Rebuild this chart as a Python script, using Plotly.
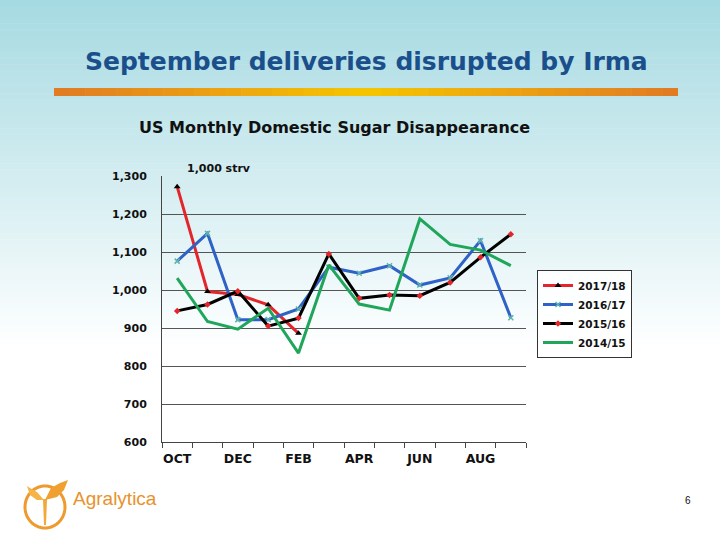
import plotly.graph_objects as go
import math

months = ["OCT", "NOV", "DEC", "JAN", "FEB", "MAR", "APR", "MAY", "JUN", "JUL", "AUG", "SEP"]
tick_labels = ["OCT", "", "DEC", "", "FEB", "", "APR", "", "JUN", "", "AUG", ""]

s2017_18 = [1272, 996, 988, 961, 886]
s2016_17 = [1076, 1149, 922, 922, 950, 1060, 1044, 1064, 1013, 1032, 1130, 927]
s2015_16 = [945, 962, 997, 905, 926, 1095, 978, 987, 985, 1020, 1086, 1147]
s2014_15 = [1031, 917, 897, 952, 834, 1066, 963, 947, 1187, 1120, 1105, 1064]

series_names = ["2017/18", "2016/17", "2015/16", "2014/15"]
y_ticks = [600, 700, 800, 900, 1000, 1100, 1200, 1300]

# plot area in pixels
L, R, T, B = 162, 526, 176, 442
W, H = 720, 540


def px2x(px):
    return (px - L) / (R - L)


def py2y(py):
    return (B - py) / (B - T)


def mix(c1, c2, t):
    return "rgb(%d,%d,%d)" % tuple(round(a + (b - a) * t) for a, b in zip(c1, c2))


fig = go.Figure()

fig.add_trace(go.Scatter(x=months[:len(s2017_18)], y=s2017_18, name=series_names[0], mode="lines+markers",
                         line=dict(color="#e3262b", width=3),
                         marker=dict(symbol="triangle-up", size=6, color="black")))
fig.add_trace(go.Scatter(x=months, y=s2016_17, name=series_names[1], mode="lines+markers",
                         line=dict(color="#2f62c6", width=3),
                         marker=dict(symbol="x-thin", size=5, color="#5fb3ad", line=dict(color="#5fb3ad", width=1.5))))
fig.add_trace(go.Scatter(x=months, y=s2015_16, name=series_names[2], mode="lines+markers",
                         line=dict(color="black", width=3),
                         marker=dict(symbol="diamond", size=5, color="#e3262b")))
fig.add_trace(go.Scatter(x=months, y=s2014_15, name=series_names[3], mode="lines",
                         line=dict(color="#1fa65a", width=3)))

shapes = []
# background gradient (top light cyan -> white)
top_c = (166, 218, 226)
bot_c = (255, 255, 255)
n = 60
grad_end = 350
for i in range(n):
    y0 = i * grad_end / n
    y1 = (i + 1) * grad_end / n + 0.5
    shapes.append(dict(type="rect", xref="paper", yref="paper",
                       x0=px2x(0), x1=px2x(W), y0=py2y(y0), y1=py2y(y1),
                       fillcolor=mix(top_c, bot_c, i / (n - 1)), line=dict(width=0), layer="below"))

# orange-yellow bar
bx0, bx1, by0, by1 = 54, 678, 88, 96
m = 40
orange = (224, 122, 36)
yellow = (246, 198, 0)
for i in range(m):
    xa = bx0 + (bx1 - bx0) * i / m
    xb = bx0 + (bx1 - bx0) * (i + 1) / m + 0.5
    t = 1 - abs((i + 0.5) / m - 0.5) * 2
    shapes.append(dict(type="rect", xref="paper", yref="paper",
                       x0=px2x(xa), x1=px2x(min(xb, bx1)), y0=py2y(by1), y1=py2y(by0),
                       fillcolor=mix(orange, yellow, t), line=dict(width=0), layer="above"))


# logo: oval outline + leaves
def path_px(pts, close=True):
    s = "M " + " L ".join("%f,%f" % (px2x(x), py2y(y)) for x, y in pts)
    return s + (" Z" if close else "")


oval = [(45 + 20 * math.cos(a / 30 * math.pi), 507 + 21 * math.sin(a / 30 * math.pi)) for a in range(-20, 51)]
shapes.append(dict(type="path", xref="paper", yref="paper", path=path_px(oval, close=False),
                   line=dict(color="#ee9a2e", width=3)))
shapes.append(dict(type="path", xref="paper", yref="paper",
                   path=path_px([(45, 525), (44, 500), (46, 500)]),
                   fillcolor="#f2a93b", line=dict(color="#f2a93b", width=2)))
shapes.append(dict(type="path", xref="paper", yref="paper",
                   path=path_px([(45, 500), (51, 488), (60, 483), (68, 480), (64, 490), (57, 497)]),
                   fillcolor="#f0a030", line=dict(width=0)))
shapes.append(dict(type="path", xref="paper", yref="paper",
                   path=path_px([(44, 500), (37, 492), (30, 488), (27, 486), (30, 495), (37, 500)]),
                   fillcolor="#f5b445", line=dict(width=0)))

annotations = [
    dict(text="<b>September deliveries disrupted by Irma</b>", x=px2x(366), y=py2y(62), xref="paper", yref="paper",
         showarrow=False, xanchor="center", yanchor="middle",
         font=dict(family="DejaVu Sans", size=25, color="#1b4f8c")),
    dict(text="<b>US Monthly Domestic Sugar Disappearance</b>", x=px2x(137), y=py2y(127), xref="paper", yref="paper",
         showarrow=False, xanchor="left", yanchor="middle",
         font=dict(family="DejaVu Sans", size=16, color="#111111")),
    dict(text="<b>1,000 strv</b>", x=px2x(185), y=py2y(168), xref="paper", yref="paper",
         showarrow=False, xanchor="left", yanchor="middle",
         font=dict(family="DejaVu Sans", size=11, color="#111111")),
    dict(text="Agralytica", x=px2x(71), y=py2y(498), xref="paper", yref="paper",
         showarrow=False, xanchor="left", yanchor="middle",
         font=dict(family="Liberation Sans", size=19, color="#e8922c")),
    dict(text="6", x=px2x(688), y=py2y(500), xref="paper", yref="paper",
         showarrow=False, xanchor="center", yanchor="middle",
         font=dict(family="Liberation Sans", size=10, color="#111111")),
]

fig.update_layout(
    width=W, height=H,
    margin=dict(l=L, r=W - R, t=T, b=H - B, pad=0),
    paper_bgcolor="white",
    plot_bgcolor="rgba(0,0,0,0)",
    shapes=shapes,
    annotations=annotations,
    showlegend=True,
    legend=dict(x=px2x(537), y=py2y(270), xanchor="left", yanchor="top",
                bgcolor="rgba(255,255,255,0.85)", bordercolor="#333333", borderwidth=1,
                font=dict(family="DejaVu Sans", size=10.5, color="#111111"),
                itemwidth=30, tracegroupgap=0),
    font=dict(family="DejaVu Sans"),
)
for tr in fig.data:
    tr.name = "<b>%s</b>" % tr.name

fig.update_xaxes(type="category", categoryorder="array", categoryarray=months,
                 tickmode="array", tickvals=months, ticktext=["<b>%s</b>" % t if t else "" for t in tick_labels],
                 tickson="boundaries", ticks="outside", ticklen=5, tickcolor="#444444", tickangle=0,
                 ticklabelstandoff=5,
                 showline=True, linecolor="#444444", linewidth=1,
                 showgrid=False, zeroline=False,
                 tickfont=dict(family="DejaVu Sans", size=12.5, color="#111111"),
                 range=[-0.5, 11.5])
fig.update_yaxes(range=[600, 1300], tickvals=y_ticks,
                 ticktext=["<b>%s</b>" % f"{v:,}" for v in y_ticks],
                 showgrid=True, gridcolor="#555555", gridwidth=1,
                 showline=True, linecolor="#444444", linewidth=1,
                 zeroline=False, ticks="", ticklabelstandoff=12,
                 tickfont=dict(family="DejaVu Sans", size=11, color="#111111"))

fig.write_html("out.html", config={"displayModeBar": False},
               post_script="document.body.style.margin='0px';document.body.style.padding='0px';")
